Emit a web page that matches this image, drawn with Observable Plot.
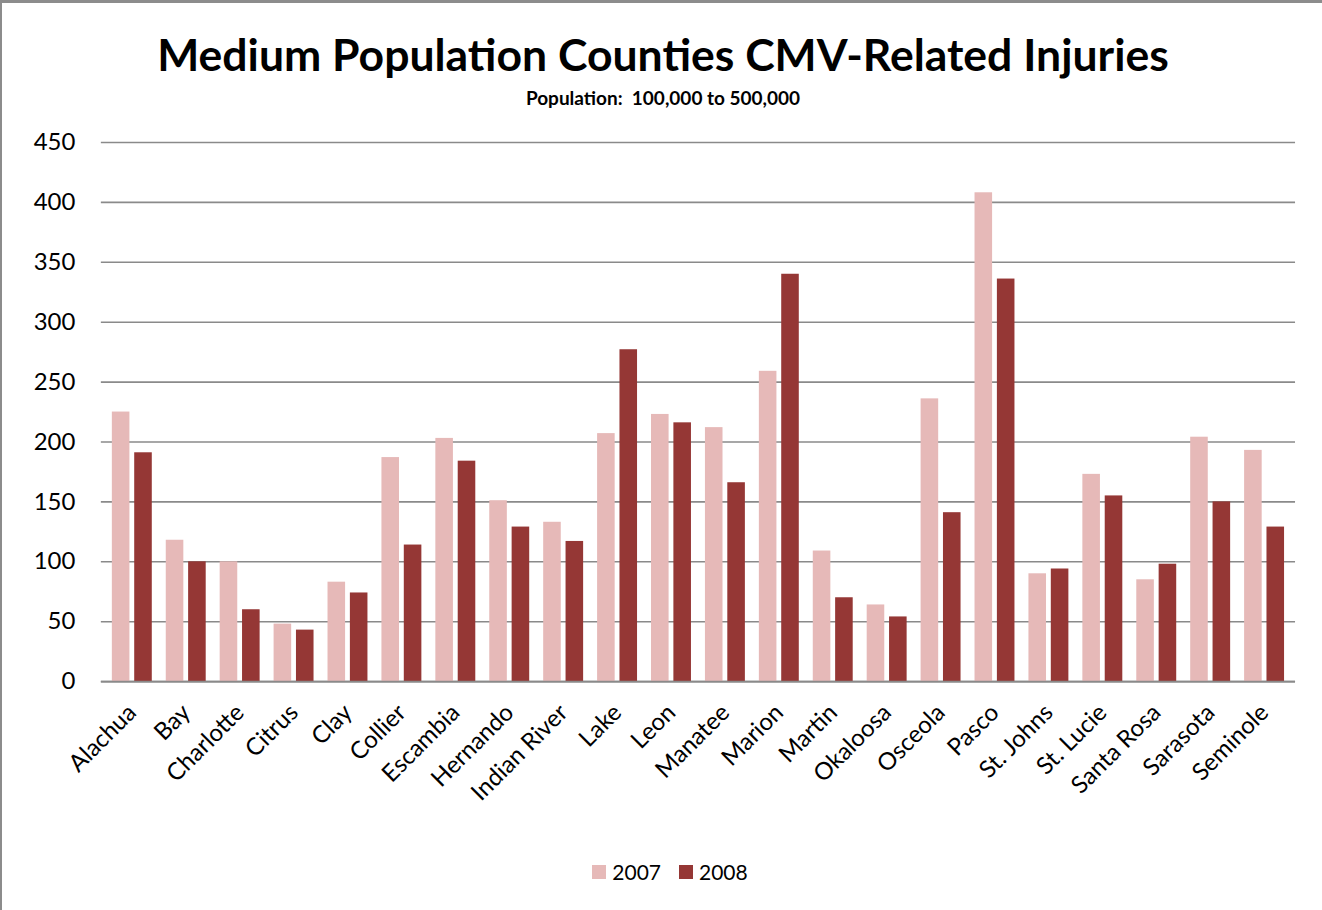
<!DOCTYPE html>
<html>
<head>
<meta charset="utf-8">
<script src="https://cdn.jsdelivr.net/npm/d3@7"></script>
<script src="https://cdn.jsdelivr.net/npm/@observablehq/plot@0.6"></script>
<style>
  html, body { margin: 0; padding: 0; background: #fff; }
  #frame { position: absolute; left: 0; top: 0; width: 1322px; height: 910px; box-sizing: border-box;
           border-left: 2px solid #8c8c8c; border-top: 3px solid #8c8c8c; font-family: Lato, "Open Sans", sans-serif; }
  #title { position: absolute; left: 0; width: 1322px; top: 24px; text-align: center; font-weight: bold; font-size: 44.5px; line-height: 54px; color: #000; }
  #subtitle { position: absolute; left: 0; width: 1322px; top: 84px; text-align: center; font-weight: bold; font-size: 19px; line-height: 22px; color: #000; }
  #chart { position: absolute; left: 0; top: 111px; }
  #legend { position: absolute; left: 0; width: 1336px; top: 856px; display: flex; justify-content: center; align-items: center; font-size: 21px; color: #000; }
  .sw { display: inline-block; width: 14px; height: 14px; margin-right: 6px; }
  .item { display: flex; align-items: center; margin: 0 9px; }
</style>
</head>
<body>
<div id="frame">
  <div id="title">Medium Population Counties CMV-Related Injuries</div>
  <div id="subtitle">Population:&nbsp; 100,000 to 500,000</div>
  <div id="chart"></div>
  <div id="legend"></div>
</div>
<script>
const counties = ["Alachua","Bay","Charlotte","Citrus","Clay","Collier","Escambia","Hernando","Indian River","Lake","Leon","Manatee","Marion","Martin","Okaloosa","Osceola","Pasco","St. Johns","St. Lucie","Santa Rosa","Sarasota","Seminole"];
const v2007 = [225,118,100,48,83,187,203,151,133,207,223,212,259,109,64,236,408,90,173,85,204,193];
const v2008 = [191,100,60,43,74,114,184,129,117,277,216,166,340,70,54,141,336,94,155,98,150,129];
const years = ["2007","2008"];
const colors = ["#E6B9B8","#953735"];
const yTicks = [0,50,100,150,200,250,300,350,400,450];

const rows07 = counties.map((c,i) => ({county: c, value: v2007[i], year: "2007"}));
const rows08 = counties.map((c,i) => ({county: c, value: v2008[i], year: "2008"}));

const chart = Plot.plot({
  width: 1322,
  height: 727,
  marginLeft: 99,
  marginRight: 27,
  marginTop: 28,
  marginBottom: 159,
  style: {fontFamily: "Lato, 'Open Sans', sans-serif", fontSize: "24px", color: "#000", background: "transparent"},
  x: {domain: counties, paddingInner: 0.265, paddingOuter: 0.1325, tickRotate: -45, tickSize: 0, tickPadding: 27, label: null},
  y: {domain: [0, 450], ticks: yTicks, tickSize: 0, tickPadding: 26, label: null, tickFormat: d => String(d)},
  color: {domain: years, range: colors},
  marks: [
    Plot.ruleY(yTicks, {stroke: "#8a8a8a", strokeWidth: 1.6}),
    Plot.barY(rows07, {x: "county", y: "value", fill: "year", insetRight: 22.4}),
    Plot.barY(rows08, {x: "county", y: "value", fill: "year", insetLeft: 22.4}),
    Plot.ruleY([0], {stroke: "#8a8a8a", strokeWidth: 1.6})
  ]
});
document.getElementById("chart").appendChild(chart);

const legend = document.getElementById("legend");
years.forEach((y, i) => {
  const item = document.createElement("div");
  item.className = "item";
  const sw = document.createElement("span");
  sw.className = "sw";
  sw.style.background = colors[i];
  const t = document.createElement("span");
  t.textContent = y;
  item.appendChild(sw); item.appendChild(t);
  legend.appendChild(item);
});
</script>
</body>
</html>
